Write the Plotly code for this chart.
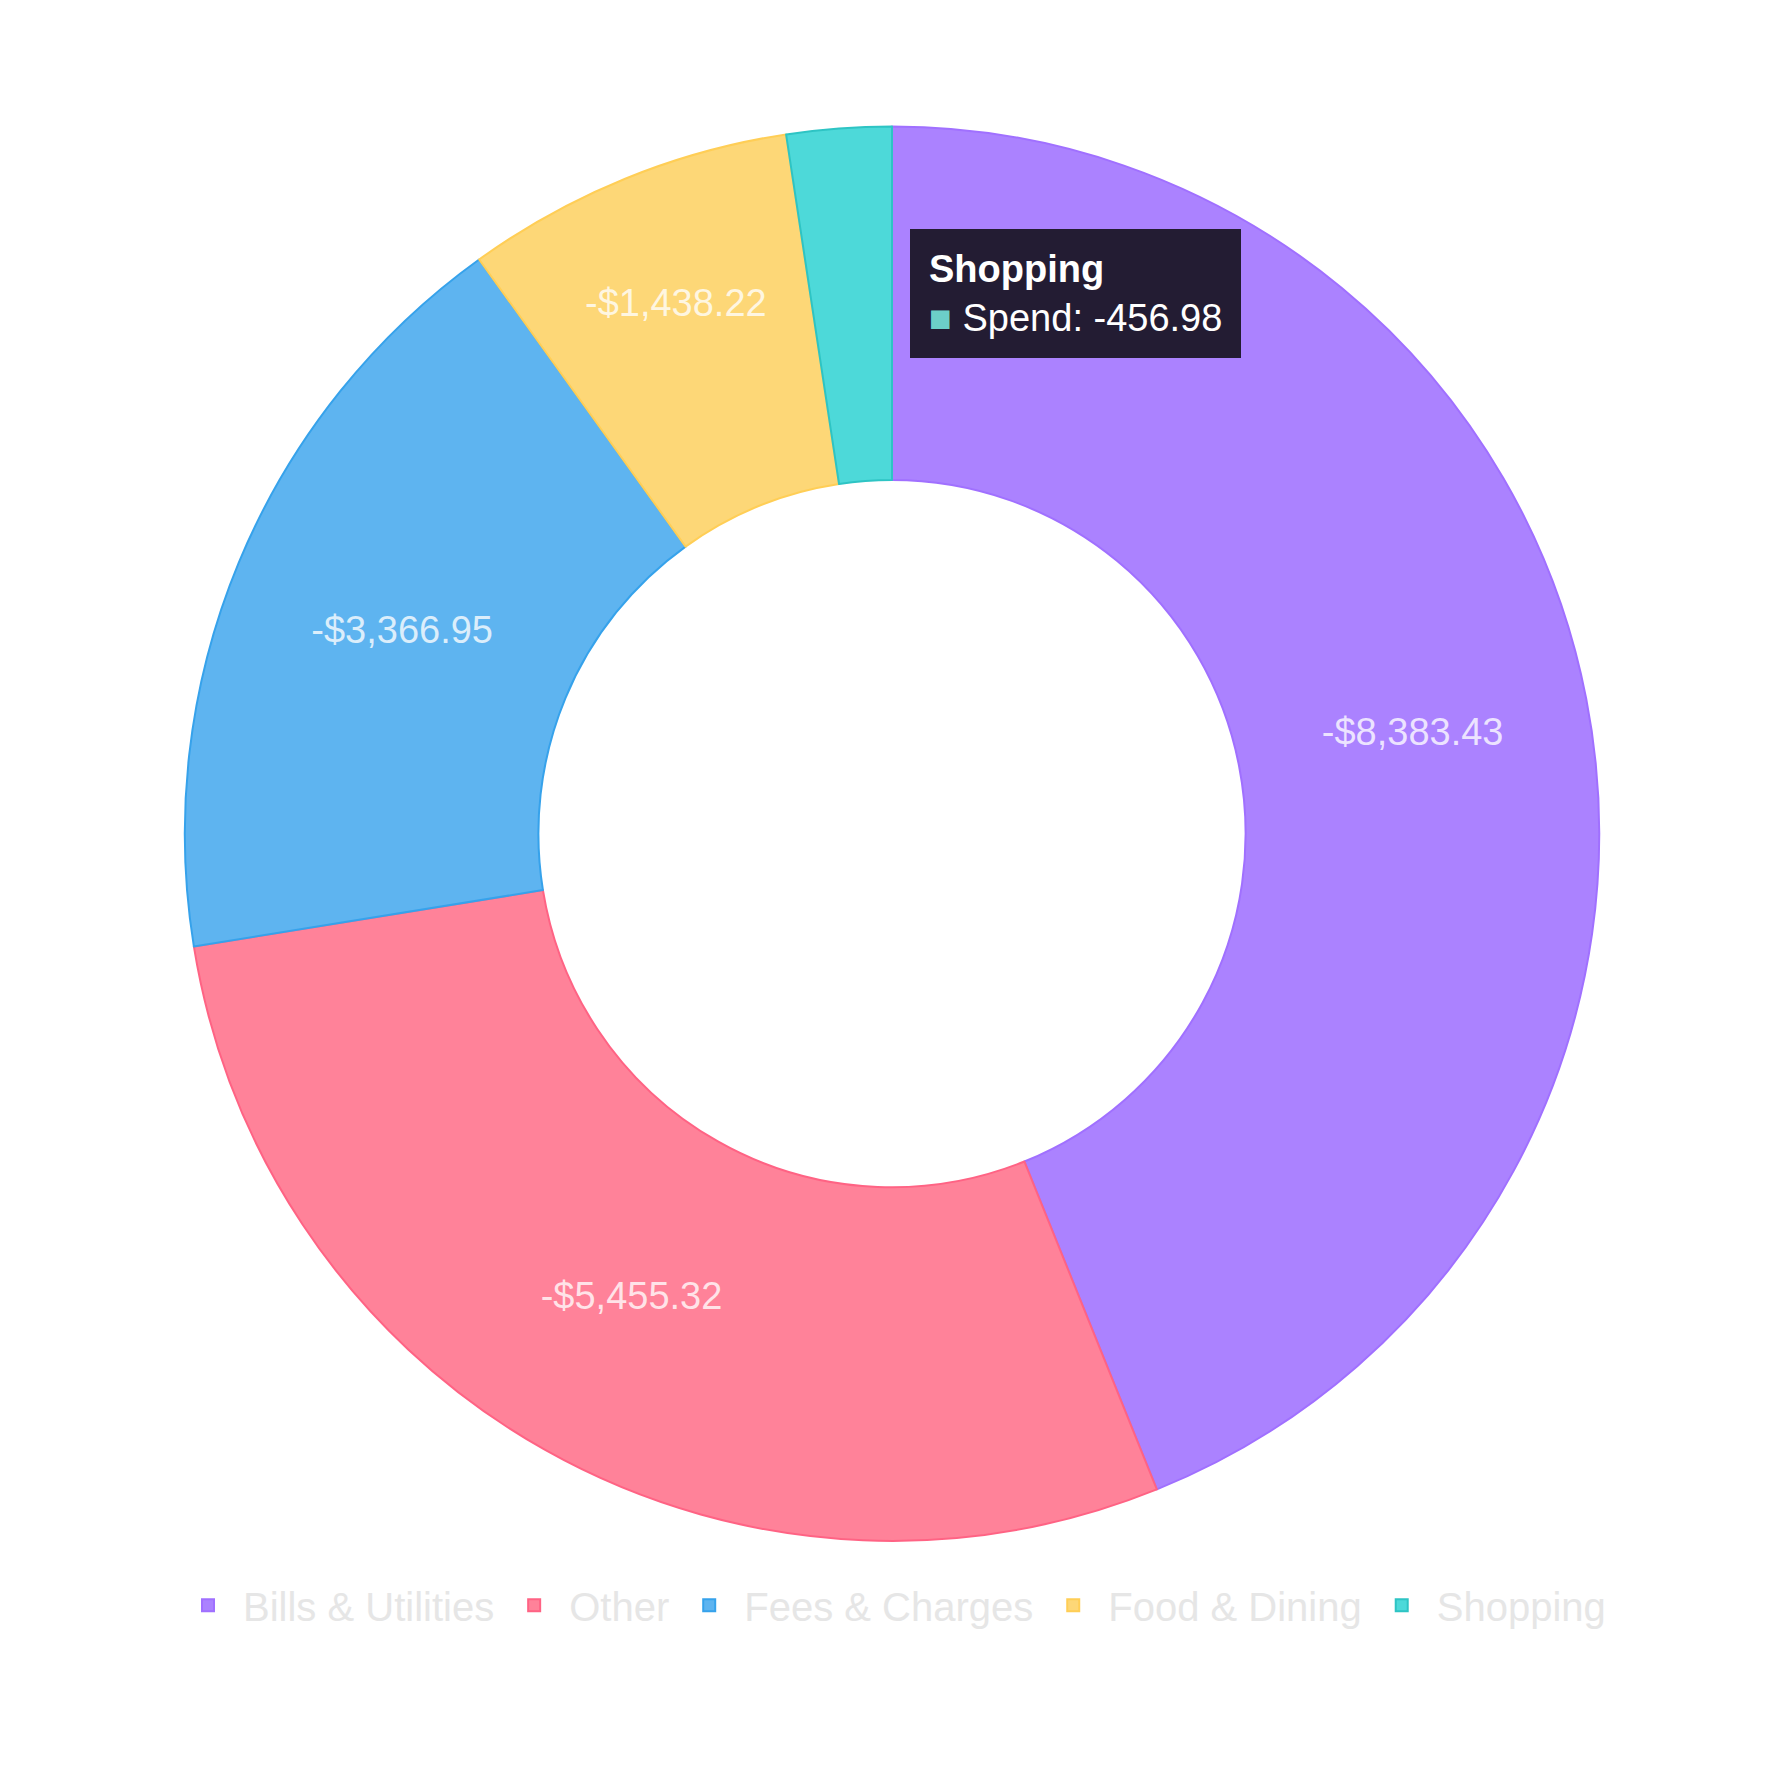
import plotly.graph_objects as go

categories = ["Bills & Utilities", "Other", "Fees & Charges", "Food & Dining", "Shopping"]
spend = [-8383.43, -5455.32, -3366.95, -1438.22, -456.98]
colors = ["#AB82FF", "#FF8299", "#5EB4F0", "#FDD777", "#4DD9D9"]
line_colors = ["#A070FF", "#FF6384", "#36A2EB", "#FFCE56", "#2EC4C4"]

total = sum(abs(v) for v in spend)
labels_txt = [("-${:,.2f}".format(abs(v)) if abs(v) / total > 0.05 else "") for v in spend]

fig = go.Figure(go.Pie(
    labels=categories,
    values=[abs(v) for v in spend],
    text=labels_txt,
    textinfo="text",
    textposition="inside",
    insidetextorientation="horizontal",
    textfont=dict(family="Liberation Sans, Arial", size=38, color="rgba(255,255,255,0.78)"),
    hole=0.5,
    sort=False,
    direction="clockwise",
    rotation=0,
    marker=dict(colors=colors, line=dict(color=line_colors, width=2)),
    domain=dict(x=[0.1, 0.9], y=[0.133, 0.933]),
    hoverinfo="skip",
))

fig.add_annotation(
    xref="paper", yref="paper", x=0.51, y=0.875, xanchor="left", yanchor="top",
    text="<b>Shopping</b><br><span style='color:#6CCFC8'>■</span> Spend: -456.98",
    showarrow=False, align="left",
    font=dict(family="Liberation Sans, Arial", size=38, color="white"),
    bgcolor="#231C33", bordercolor="#231C33", borderpad=18,
)

fig.update_layout(
    width=1768, height=1768,
    margin=dict(l=0, r=0, t=0, b=0),
    paper_bgcolor="white",
    showlegend=True,
    legend=dict(orientation="h", x=0.5, xanchor="center", y=0.115, yanchor="top",
                font=dict(family="Liberation Sans, Arial", size=40, color="#E6E6E6"),
                itemwidth=60),
)

fig.write_html("out.html")
